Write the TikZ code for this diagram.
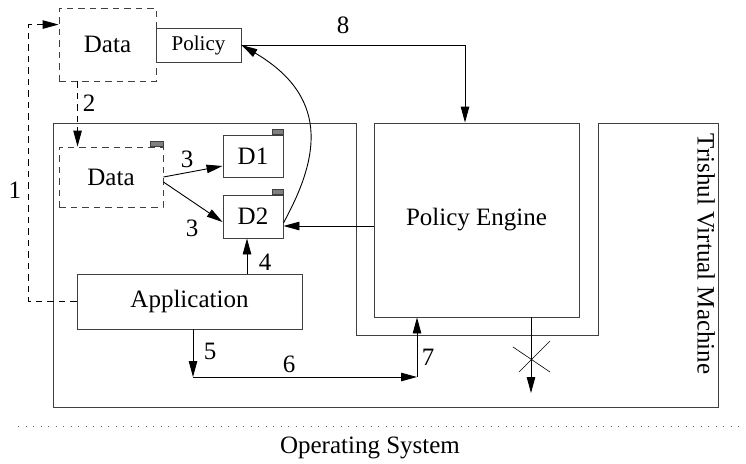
\documentclass[tikz,border=0pt]{standalone}
\usepackage{fontspec}
\setmainfont{Liberation Serif}
\usetikzlibrary{arrows.meta,calc}
\tikzset{
    box/.style={draw=black!75, line width=0.9pt, inner sep=0pt},
    dbox/.style={box, dash pattern=on 6.5pt off 5pt},
    tab/.style={draw=black!75, fill=black!50, line width=0.9pt},
    link/.style={->, line width=0.9pt},
    dlink/.style={link, dash pattern=on 6.5pt off 5pt},
}

\begin{document}
\begin{tikzpicture}[x=1pt, y=-1pt, >={Triangle[length=16pt,width=8.5pt]}, font=\fontsize{25}{30}\selectfont]
\useasboundingbox (0,0) rectangle (746,463);
\draw[box] (53,123) -- (356,123) -- (356,335) -- (598,335) -- (598,123) -- (718,123) -- (718,407) -- (53,407) -- cycle;
\node[box, minimum width=205pt, minimum height=194pt] (pe) at (476.5,220) {Policy Engine};
\node[dbox, minimum width=97pt, minimum height=73pt] (topdata) at (107.5,44.5) {Data};
\node[box, minimum width=85pt, minimum height=34pt, font=\fontsize{21}{25}\selectfont] (policy) at (198.5,45) {Policy};
\node[dbox, minimum width=104pt, minimum height=60pt] (data) at (111,177) {Data};
\node[box, minimum width=60pt, minimum height=42pt] (d1) at (253,156) {D1};
\node[box, minimum width=60pt, minimum height=43pt] (d2) at (253,216.5) {D2};
\node[box, minimum width=225pt, minimum height=55pt] (app) at (189.5,301.5) {Application};
\node[rotate=-90] (vm) at (706,254) {Trishul Virtual Machine};
\node (os) at (370,448) {Operating System};
\foreach \n/\w in {data/13,d1/11,d2/11} {
\filldraw[tab] ([xshift=-\w pt]\n.north east) rectangle ([yshift=5.5pt]\n.north east);
}
\draw[black!60, line width=1pt, dash pattern=on 1pt off 6.5pt] (18,426) -- (746,426);
\coordinate (a4) at ([xshift=-6pt]d2.south);
\coordinate (c5) at (193,377);
\coordinate (c7) at (417,377);
\coordinate (c8) at ([xshift=-11.5pt]pe.north);
\coordinate (c9) at ([yshift=-9.5pt]d2.east);
\coordinate (cx) at (531,393);
\draw[dlink] (app.west) -- ++(-48,0) |- ([yshift=-17pt]topdata.north west);
\draw[dlink] ([xshift=19pt]topdata.south west) -- ([xshift=19pt]data.north west);
\draw[link] (data.east) -- ([yshift=-10pt]d1.west);
\draw[link] ([yshift=-5pt]data.east) -- ([yshift=-5.5pt]d2.west);
\draw[link] (a4 |- app.north) -- (a4);
\draw[link] (app.south -| c5) -- (c5);
\draw[link] (c5) -- (c7);
\draw[link] (c7) -- (c7 |- pe.south);
\draw[link] (policy.east) -| (c8);
\draw[link] (pe.west |- c9) -- (c9);
\draw[link] ([yshift=-6.5pt]d2.east) .. controls (315,165) and (335,100) .. (policy.east);
\draw[link] (pe.south -| cx) -- (cx);
\draw[line width=0.6pt] (513,347) -- (550,372) (519,372) -- (550,341);
\foreach \t/\x/\y [count=\i] in {1/15/190, 2/89/103, 3/187/159, 3/192/228, 4/265/262, 5/210/351, 6/289/364, 7/428/357, 8/343/25} {
\node (lbl\i) at (\x,\y) {\t};
}
\end{tikzpicture}
\end{document}
